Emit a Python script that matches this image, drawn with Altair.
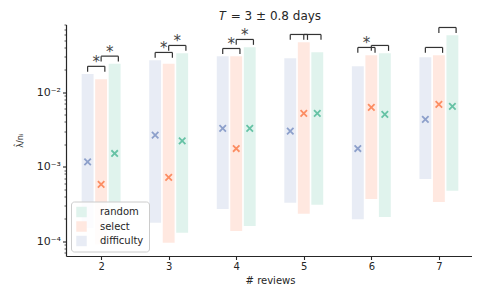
import altair as alt
import pandas as pd

# ---- data ----
reviews = [2, 3, 4, 5, 6, 7]
methods = ["random", "select", "difficulty"]
offsets = {"difficulty": -0.2, "select": 0.0, "random": 0.2}

diff_mid = [0.00116, 0.00265, 0.00326, 0.0030, 0.00175, 0.0043]
diff_lo = [0.00015, 0.000176, 0.000269, 0.000327, 0.000197, 0.000679]
diff_hi = [0.0175, 0.0269, 0.0304, 0.0286, 0.0223, 0.0295]

sel_mid = [0.000577, 0.000716, 0.00175, 0.00518, 0.00624, 0.00684]
sel_lo = [0.00009, 0.000095, 0.000137, 0.000232, 0.000367, 0.000334]
sel_hi = [0.0149, 0.024, 0.0304, 0.0469, 0.0314, 0.0314]

rnd_mid = [0.0015, 0.00222, 0.00326, 0.00518, 0.00502, 0.00643]
rnd_lo = [0.00013, 0.000129, 0.000159, 0.000307, 0.00021, 0.000473]
rnd_hi = [0.024, 0.0334, 0.0402, 0.0344, 0.0334, 0.0582]

# significance: difficulty vs select, select vs random
sig_diff_sel = [True, True, True, False, True, False]
sig_sel_rnd = [True, True, True, False, False, False]

light_colors = ["#e0f3ed", "#ffe8e0", "#e8ecf5"]
strong_colors = ["#66c2a5", "#fc8d62", "#8da0cb"]
ink = "#262626"

# ---- tables ----
series = {
    "difficulty": (diff_mid, diff_lo, diff_hi),
    "select": (sel_mid, sel_lo, sel_hi),
    "random": (rnd_mid, rnd_lo, rnd_hi),
}
rows = []
for m, (mid, lo, hi) in series.items():
    for i, r in enumerate(reviews):
        c = r + offsets[m]
        rows.append(dict(method=m, xc=c, xa=c - 0.088, xb=c + 0.088,
                         mid=mid[i], lo=lo[i], hi=hi[i]))
df = pd.DataFrame(rows)

brk = []
legs = []
stars = []
for i, r in enumerate(reviews):
    for (a, b, sig) in [("difficulty", "select", sig_diff_sel[i]),
                        ("select", "random", sig_sel_rnd[i])]:
        x1 = r + offsets[a]
        x2 = r + offsets[b] + 0.055
        top = max(series[a][2][i], series[b][2][i])
        yh = top * 1.269
        yl = top * 1.074
        brk.append(dict(x1=x1, x2=x2, yh=yh))
        legs.append(dict(x=x1, yl=yl, yh=yh))
        legs.append(dict(x=x2, yl=yl, yh=yh))
        if sig:
            stars.append(dict(x=(x1 + x2) / 2, y=yh, t="*"))
brk = pd.DataFrame(brk)
legs = pd.DataFrame(legs)
stars = pd.DataFrame(stars)

# ---- scales ----
xscale = alt.Scale(domain=[1.48, 7.52], nice=False, zero=False)
yscale = alt.Scale(type="log", domain=[6.3e-5, 0.081], nice=False)

ytick_vals = []
for dec in [1e-5, 1e-4, 1e-3, 1e-2]:
    for k in range(1, 10):
        v = k * dec
        if 6.3e-5 <= v <= 0.081:
            ytick_vals.append(v)

is_major = "abs(log(datum.value)/LN10 - round(log(datum.value)/LN10)) < 0.001"
xaxis = alt.Axis(values=reviews, format="d", title="# reviews", grid=False,
                 tickSize=3.5, tickWidth=1.1, labelPadding=2, titlePadding=4)
yaxis = alt.Axis(
    values=ytick_vals, grid=False, title="λ̂/nᵢ", titleFontSize=8,
    titleFontWeight="normal", titlePadding=12, labelFontSize=11,
    labelExpr=f"{is_major} ? '10⁻' + ['','¹','²','³','⁴','⁵'][-round(log(datum.value)/LN10)] : ''",
    tickSize={"condition": {"test": is_major, "value": 3.5}, "value": 2},
    tickWidth={"condition": {"test": is_major, "value": 1.1}, "value": 0.8},
    labelPadding=2,
)

base = alt.Chart(df)
bars = base.mark_bar().encode(
    x=alt.X("xa:Q", scale=xscale, axis=xaxis),
    x2="xb:Q",
    y=alt.Y("lo:Q", scale=yscale, axis=yaxis),
    y2="hi:Q",
    color=alt.Color("method:N",
                    scale=alt.Scale(domain=methods, range=light_colors),
                    legend=alt.Legend(title=None, orient="bottom-left", offset=5,
                                      symbolType="square", symbolSize=110,
                                      symbolStrokeWidth=0, labelFontSize=10,
                                      labelColor=ink, labelOffset=13,
                                      fillColor="rgba(255,255,255,0.85)",
                                      strokeColor="#cccccc", cornerRadius=3,
                                      padding=5, rowPadding=3.5)),
)

pts = base.mark_point(shape="M-1,-1L1,1M-1,1L1,-1", filled=False,
                      size=42, strokeWidth=1.8, opacity=1).encode(
    x=alt.X("xc:Q", scale=xscale),
    y=alt.Y("mid:Q", scale=yscale),
    color=alt.Color("method:N",
                    scale=alt.Scale(domain=methods, range=strong_colors),
                    legend=None),
)

hlines = alt.Chart(brk).mark_rule(strokeWidth=1.2).encode(
    x=alt.X("x1:Q", scale=xscale), x2="x2:Q",
    y=alt.Y("yh:Q", scale=yscale),
    color=alt.value("#333333"),
)
vlines = alt.Chart(legs).mark_rule(strokeWidth=1.2).encode(
    x=alt.X("x:Q", scale=xscale),
    y=alt.Y("yl:Q", scale=yscale), y2="yh:Q",
    color=alt.value("#333333"),
)
startext = alt.Chart(stars).mark_text(fontSize=15, baseline="alphabetic",
                                      dy=0.5).encode(
    x=alt.X("x:Q", scale=xscale),
    y=alt.Y("y:Q", scale=yscale),
    text="t:N",
    color=alt.value("#444444"),
)

chart = alt.layer(bars, pts, hlines, vlines, startext).resolve_scale(
    color="independent"
).properties(
    width=408, height=231.5,
    title=alt.TitleParams("𝑇 = 3 ± 0.8 days", fontSize=12, fontWeight="normal",
                          color=ink, offset=5, dy=4),
    autosize=alt.AutoSizeParams(type="none"),
    padding={"left": 58, "top": 16.5, "right": -2, "bottom": 30},
).configure(font="DejaVu Sans").configure_view(stroke=None).configure_axis(
    domainColor=ink, domainWidth=1.2, tickColor=ink, labelColor=ink,
    titleColor=ink, labelFontSize=10, titleFontSize=10, titleFontWeight="normal",
    labelFont="DejaVu Sans", titleFont="DejaVu Sans",
)

chart.save("out.html", embed_options={"renderer": "svg", "actions": False})
